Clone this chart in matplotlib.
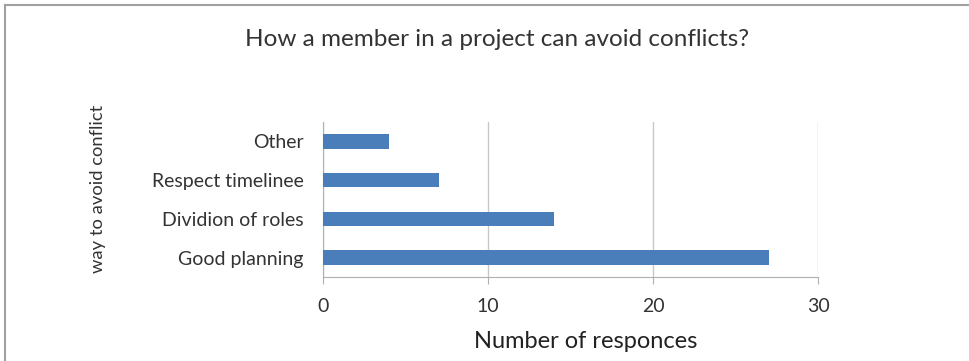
import matplotlib
matplotlib.use("Agg")
import matplotlib.pyplot as plt
from matplotlib.lines import Line2D

categories = ["Good planning", "Dividion of roles", "Respect timelinee", "Other"]
values = [27, 14, 7, 4]
xticks = [0, 10, 20, 30]

plt.rcParams['font.family'] = ['Lato', 'DejaVu Sans']

fig = plt.figure(figsize=(9.69, 3.61), dpi=100)
ax = fig.add_axes([323/969, 1-277/361, (818-323)/969, (277-122)/361])

ax.barh(range(len(categories)), values, height=0.37, color="#4a7ebb", zorder=3)
ax.set_xlim(0, 30)
ax.set_ylim(-0.5, len(categories)-0.5)
ax.set_xticks(xticks)
ax.set_xticklabels([str(t) for t in xticks], fontsize=14, color="#333333")
ax.set_yticks(range(len(categories)))
ax.set_yticklabels(categories, fontsize=14, color="#333333")
ax.grid(axis="x", color="#c8c8c8", linewidth=1, zorder=0)
for s in ["top", "right"]:
    ax.spines[s].set_visible(False)
for s in ["left", "bottom"]:
    ax.spines[s].set_color("#b0b0b0")
ax.tick_params(axis="x", length=5, color="#b0b0b0", pad=10)
ax.tick_params(axis="y", length=0, pad=14)

fig.text(586/969, 1-341/361, "Number of responces", fontsize=17,
         ha="center", va="center", color="#222222")
fig.text(98/969, 1-189/361, "way to avoid conflict", rotation=90, fontsize=13.2,
         ha="center", va="center", color="#333333")
fig.text(497/969, 1-40/361, "How a member in a project can avoid conflicts?", fontsize=17.5,
         ha="center", va="center", color="#333333")

fig.add_artist(Line2D([5/969, 5/969], [0, 1-5/361], color="#a0a0a0", linewidth=1.5))
fig.add_artist(Line2D([5/969, 1], [1-5/361, 1-5/361], color="#a0a0a0", linewidth=1.5))

fig.savefig("out.png", dpi=100)
